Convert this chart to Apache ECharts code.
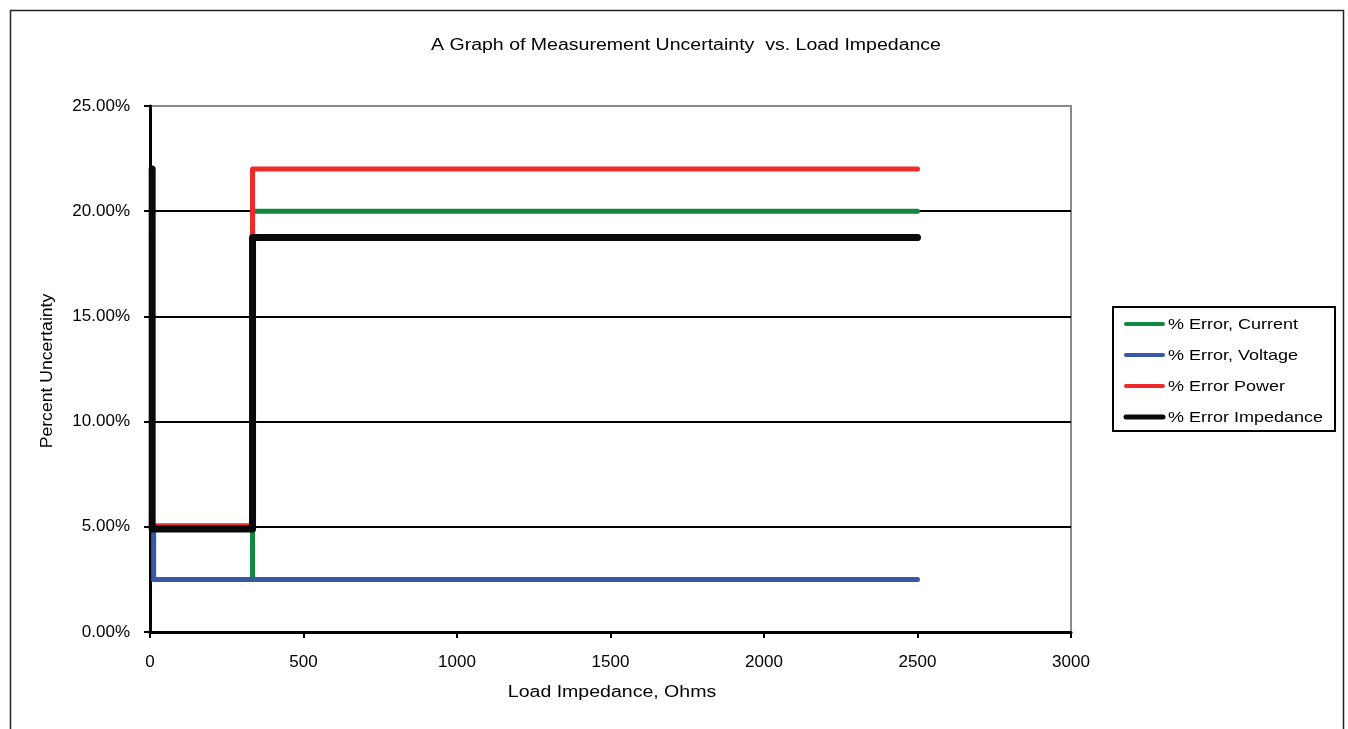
<!DOCTYPE html>
<html><head><meta charset="utf-8">
<script src="https://cdn.jsdelivr.net/npm/echarts@6/dist/echarts.min.js"></script>
<style>html,body{margin:0;padding:0;background:#fff}#c{width:1348px;height:729px}</style>
</head><body><div id="c"></div>
<script>
// Data (Load impedance in Ohms, uncertainty in percent)
const seriesNames = ['% Error, Current', '% Error, Voltage', '% Error Power', '% Error Impedance'];
const currentX = [12, 334, 334, 2500];
const currentY = [2.5, 2.5, 20.0, 20.0];
const voltageX = [12, 12, 334, 2500];
const voltageY = [5.0, 2.5, 2.5, 2.5];
const powerX = [6, 6, 334, 334, 2500];
const powerY = [22.0, 5.05, 5.05, 22.0, 22.0];
const impedanceX = [7, 7, 334, 334, 2500];
const impedanceY = [22.0, 4.9, 4.9, 18.75, 18.75];
const xTicks = [0, 500, 1000, 1500, 2000, 2500, 3000];
const yTicks = [0, 5, 10, 15, 20, 25];
const titleText = 'A Graph of Measurement Uncertainty  vs. Load Impedance';
const xName = 'Load Impedance, Ohms';
const yName = 'Percent Uncertainty';

const colors = ['#13863f', '#3a58a8', '#ef2a2a', '#0a0a0a'];
const widths = [5, 5, 5, 7];
const zip = (xs, ys) => xs.map((x, i) => [x, ys[i]]);
const dataSets = [zip(currentX, currentY), zip(voltageX, voltageY), zip(powerX, powerY), zip(impedanceX, impedanceY)];
const font = '"Liberation Sans", Arial, sans-serif';

const graphics = [
  {type: 'rect', left: 8, top: 8, shape: {x: 0, y: 0, width: 1333, height: 740},
   style: {fill: 'none', stroke: '#222', lineWidth: 1.5}, silent: true, z: -1},
  {type: 'text', x: 686, y: 46, scaleX: 1.22,
   style: {text: titleText, font: '16px ' + font, fill: '#000', textAlign: 'center', textVerticalAlign: 'middle', verticalAlign: 'middle'}},
  {type: 'text', x: 612, y: 693, scaleX: 1.22,
   style: {text: xName, font: '16px ' + font, fill: '#000', textAlign: 'center', textVerticalAlign: 'middle', verticalAlign: 'middle'}},
  {type: 'text', x: 48, y: 371, rotation: Math.PI / 2, scaleX: 1.1,
   style: {text: yName, font: '16px ' + font, fill: '#000', textAlign: 'center', textVerticalAlign: 'middle', verticalAlign: 'middle'}},
  {type: 'rect', shape: {x: 1113, y: 307, width: 222, height: 124},
   style: {fill: '#fff', stroke: '#000', lineWidth: 2}, z: 10}
];
seriesNames.forEach((n, i) => {
  const y = 324 + 31 * i;
  graphics.push({type: 'line', shape: {x1: 1126, y1: y, x2: 1163, y2: y},
    style: {stroke: colors[i], lineWidth: i === 3 ? 5 : 4, lineCap: 'round'}, z: 11});
  graphics.push({type: 'text', x: 1168, y: y + 1, scaleX: 1.2,
    style: {text: n, font: '15px ' + font, fill: '#000', textAlign: 'left', textVerticalAlign: 'middle', verticalAlign: 'middle'}, z: 11});
});

const chart = echarts.init(document.getElementById('c'), null, {renderer: 'canvas'});
chart.setOption({
  animation: false,
  backgroundColor: '#fff',
  textStyle: {fontFamily: font, color: '#000'},
  graphic: graphics,
  grid: {left: 150, right: 277, top: 106, bottom: 97, show: true, borderColor: '#8a8a8a', borderWidth: 2, backgroundColor: '#fff'},
  xAxis: {
    type: 'value', min: xTicks[0], max: xTicks[xTicks.length - 1], interval: 500,
    axisLine: {show: true, onZero: false, lineStyle: {color: '#000', width: 3}},
    axisTick: {show: true, inside: false, length: 6, lineStyle: {color: '#000', width: 2}},
    axisLabel: {margin: 22, fontFamily: font, fontSize: 17, color: '#000', formatter: v => String(v)},
    splitLine: {show: false}
  },
  yAxis: {
    type: 'value', min: yTicks[0], max: yTicks[yTicks.length - 1], interval: 5,
    axisLine: {show: true, lineStyle: {color: '#000', width: 3}},
    axisTick: {show: true, inside: false, length: 6, lineStyle: {color: '#000', width: 2}},
    axisLabel: {margin: 20, fontFamily: font, fontSize: 17, color: '#000', formatter: v => v.toFixed(2) + '%'},
    splitLine: {show: true, lineStyle: {color: ['#000', '#000', '#000', '#000', '#000', '#8a8a8a'], width: 2}}
  },
  series: seriesNames.map((n, i) => ({
    name: n, type: 'line', data: dataSets[i], symbol: 'none', showSymbol: false,
    lineStyle: {color: colors[i], width: widths[i], cap: 'round', join: 'round'},
    itemStyle: {color: colors[i]}, z: 2 + i
  }))
});
</script></body></html>
